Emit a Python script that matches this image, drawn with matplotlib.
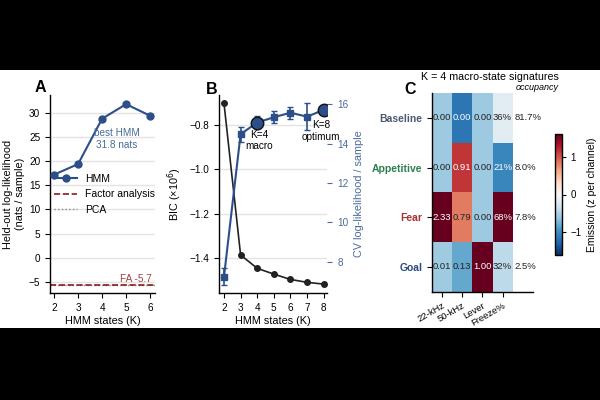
import matplotlib.pyplot as plt
import numpy as np
from matplotlib.patches import Rectangle

plt.rcParams['font.family'] = ['Liberation Sans', 'DejaVu Sans']
plt.rcParams['font.size'] = 7
plt.rcParams['xtick.labelsize'] = 7.2
plt.rcParams['ytick.labelsize'] = 7.2
plt.rcParams['axes.linewidth'] = 1.0

# panel A data
k_a = [2, 3, 4, 5, 6]
hmm_ll = [17.2, 19.4, 28.8, 31.8, 29.4]
fa_ll = -5.7
pca_ll = -5.7

# panel B data
k_b = [2, 3, 4, 5, 6, 7, 8]
bic = [-0.702, -1.385, -1.445, -1.471, -1.495, -1.508, -1.516]
cv_ll = [7.24, 14.48, 15.07, 15.34, 15.57, 15.37, 15.71]
cv_err = [0.42, 0.38, 0.34, 0.30, 0.30, 0.68, 0.15]
k_marked = [4, 8]

# panel C data
states = ['Baseline', 'Appetitive', 'Fear', 'Goal']
state_colors = ['#4b5a70', '#2e7d4f', '#a83232', '#2e4a80']
channels = ['22-kHz', '50-kHz', 'Lever', 'Freeze%']
emis_22 = [0.00, 0.00, 2.33, 0.01]
emis_50 = [0.00, 0.91, 0.79, 0.13]
emis_lever = [0.00, 0.00, 0.00, 1.00]
freeze_pct = [36, 21, 68, 32]
occupancy = [81.7, 8.0, 7.8, 2.5]

blue = '#2c4f8a'
lblue = '#4a6a9a'
grid_c = '#e3e3e3'
lab_fs = 7.8

fig = plt.figure(figsize=(6, 4), dpi=100, facecolor='black')
fig.patches.append(Rectangle((0, 0.18), 1, 0.645, transform=fig.transFigure,
                             facecolor='white', edgecolor='none', zorder=-1))

# ---- A ----
axA = fig.add_axes([0.0833, 0.2675, 0.175, 0.495])
axA.plot(k_a, hmm_ll, '-o', color=blue, lw=1.5, ms=5, label='HMM', zorder=3)
axA.axhline(pca_ll, color='#888888', ls=':', lw=1.0, label='PCA', zorder=1)
axA.axhline(fa_ll, color='#8b1a1a', ls='--', lw=1.2, label='Factor analysis', zorder=2)
axA.set_xlim(1.83, 6.2)
axA.set_ylim(-7.3, 33.7)
axA.set_yticks([-5, 0, 5, 10, 15, 20, 25, 30])
axA.set_xticks(k_a)
axA.grid(axis='y', color=grid_c, lw=1.0)
axA.set_axisbelow(True)
for s in ['top', 'right']:
    axA.spines[s].set_visible(False)
axA.set_xlabel('HMM states (K)', fontsize=lab_fs, labelpad=2.5)
axA.set_ylabel('Held-out log-likelihood\n(nats / sample)', fontsize=lab_fs, labelpad=3)
axA.text(4.6, 24.6, 'best HMM\n31.8 nats', color=lblue, fontsize=7.2,
         ha='center', va='center')
axA.text(6.05, -4.4, 'FA -5.7', color='#a04040', fontsize=7.2, ha='right', va='center')
h, l = axA.get_legend_handles_labels()
axA.legend([h[0], h[2], h[1]], [l[0], l[2], l[1]], loc='upper left',
           bbox_to_anchor=(-0.02, 0.635), frameon=False, fontsize=7.5,
           handlelength=2.2, labelspacing=0.55, borderaxespad=0.2)
fig.text(40 / 600, 1 - 88 / 400, 'A', fontsize=11.5, fontweight='bold',
         ha='center', va='center')

# ---- B ----
axB = fig.add_axes([0.365, 0.2675, 0.18, 0.495])
axB.plot(k_b, bic, '-o', color='#222222', lw=1.2, ms=4, zorder=3)
axB.set_xlim(1.7, 8.2)
axB.set_ylim(-1.556, -0.665)
axB.set_yticks([-1.4, -1.2, -1.0, -0.8])
axB.set_yticklabels(['\u22121.4', '\u22121.2', '\u22121.0', '\u22120.8'])
axB.set_xticks(k_b)
axB.grid(axis='y', color=grid_c, lw=1.0)
axB.set_axisbelow(True)
for s in ['top', 'right']:
    axB.spines[s].set_visible(False)
axB.set_xlabel('HMM states (K)', fontsize=lab_fs, labelpad=2.5)
axB.set_ylabel('BIC (\u00d710$^6$)', fontsize=lab_fs)

axB2 = axB.twinx()
axB2.errorbar(k_b, cv_ll, yerr=cv_err, fmt='-s', color=blue, lw=1.5, ms=4,
              capsize=2, elinewidth=1.2, zorder=3)
for km in k_marked:
    i = k_b.index(km)
    axB2.plot(k_b[i], cv_ll[i], 'o', ms=9, mfc=blue, mec='#111111', mew=1.0, zorder=4)
axB2.set_ylim(6.41, 16.47)
axB2.set_yticks([8, 10, 12, 14, 16])
for s in ['top', 'right', 'left', 'bottom']:
    axB2.spines[s].set_visible(False)
axB2.tick_params(axis='y', colors=lblue, labelcolor=lblue, pad=4)
axB2.set_ylabel('CV log-likelihood / sample', color=lblue, fontsize=lab_fs)
axB2.text(4.1, 14.15, 'K=4\nmacro', fontsize=7.2, ha='center', va='center')
axB2.text(7.85, 14.65, 'K=8\noptimum', fontsize=7.2, ha='center', va='center')
fig.text(212 / 600, 1 - 89 / 400, 'B', fontsize=11.5, fontweight='bold',
         ha='center', va='center')

# ---- C ----
raw = np.array([emis_22, emis_50, emis_lever, freeze_pct], dtype=float).T
z = (raw - raw.mean(axis=0)) / raw.std(axis=0)
axC = fig.add_axes([0.72, 0.271, 0.168, 0.496])
im = axC.imshow(z, cmap='RdBu_r', vmin=-1.6, vmax=1.6, aspect='auto',
                extent=(-0.5, 3.5, 3.5, -0.5))
axC.set_xlim(-0.5, 4.5)
axC.set_ylim(3.5, -0.5)
for i in range(len(states)):
    for j in range(len(channels)):
        if j == 3:
            txt = '%d%%' % freeze_pct[i]
        else:
            txt = '%.2f' % raw[i, j]
        tc = 'white' if abs(z[i, j]) > 1.0 else '#222222'
        axC.text(j, i, txt, ha='center', va='center', fontsize=6.8, color=tc)
    axC.text(3.58, i, '%.1f%%' % occupancy[i], ha='left', va='center',
             fontsize=6.8, color='#222222')
axC.set_xticks(range(len(channels)))
axC.set_xticklabels(channels, rotation=30, ha='right', fontsize=6.8,
                    rotation_mode='anchor')
axC.set_yticks(range(len(states)))
axC.set_yticklabels(states, fontsize=7.5, fontweight='bold')
for t, c in zip(axC.get_yticklabels(), state_colors):
    t.set_color(c)
for s in ['top', 'right']:
    axC.spines[s].set_visible(False)
fig.text(490 / 600, 1 - 77 / 400, 'K = 4 macro-state signatures', fontsize=7.7,
         ha='center', va='center')
fig.text(537 / 600, 1 - 87 / 400, 'occupancy', fontsize=6.5, style='italic',
         ha='center', va='center')
fig.text(410 / 600, 1 - 90 / 400, 'C', fontsize=11.5, fontweight='bold',
         ha='center', va='center')

cax = fig.add_axes([0.925, 0.3625, 0.011, 0.3025])
cb = fig.colorbar(im, cax=cax)
cb.set_ticks([-1, 0, 1])
cb.set_ticklabels(['\u22121', '0', '1'])
cb.ax.tick_params(labelsize=7, length=3)
cb.set_label('Emission (z per channel)', fontsize=7.5)

fig.savefig('out.png', dpi=100, facecolor=fig.get_facecolor())
